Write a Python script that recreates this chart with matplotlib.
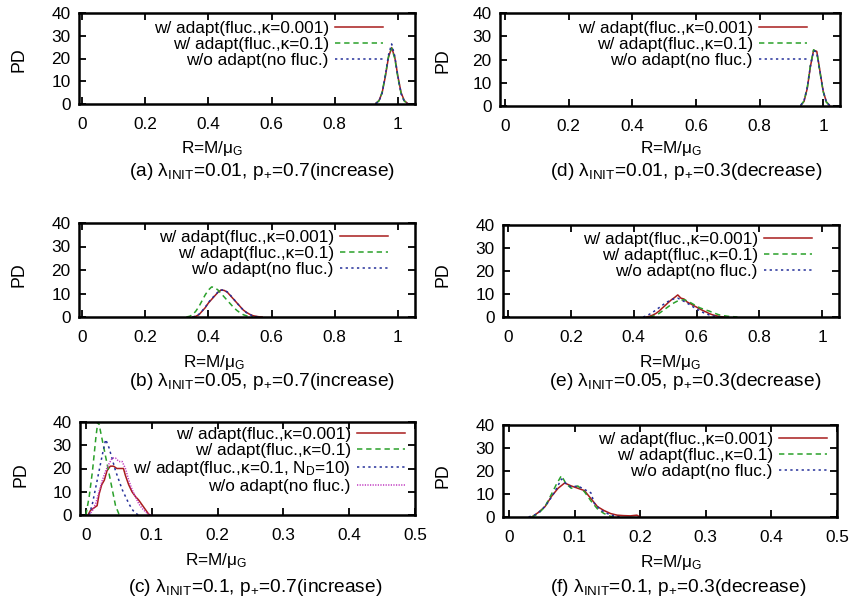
import matplotlib
matplotlib.use('Agg')
import matplotlib.pyplot as plt

plt.rcParams['font.family'] = ['Liberation Sans', 'DejaVu Sans']
plt.rcParams['mathtext.fontset'] = 'custom'
plt.rcParams['mathtext.rm'] = 'Liberation Sans'
plt.rcParams['mathtext.it'] = 'Liberation Sans:italic'
plt.rcParams['mathtext.bf'] = 'Liberation Sans:bold'

# colours / styles of the gnuplot line types
C_RED = '#a81c1c'
C_GRN = '#2aa02a'
C_BLU = '#25309a'
C_MAG = '#c038c0'

LBL_K001 = 'w/ adapt(fluc.,κ=0.001)'
LBL_K01 = 'w/ adapt(fluc.,κ=0.1)'
LBL_ND = r'w/ adapt(fluc.,κ=0.1, N$_{\mathrm{D}}$=10)'
LBL_NOF = 'w/o adapt(no fluc.)'

# ---- (a) lambda=0.01, p+=0.7
a_x = [0.93, 0.94, 0.95, 0.96, 0.97, 0.98, 0.99, 1.00, 1.01, 1.02, 1.03]
a_red = [0.3, 1.5, 5.0, 12.0, 20.5, 24.8, 20.5, 12.0, 5.0, 1.5, 0.3]
a_grn = [0.2, 1.4, 5.2, 12.5, 20.8, 24.6, 20.0, 11.5, 4.6, 1.3, 0.2]
a_blu = [0.2, 1.2, 4.8, 12.5, 21.5, 26.4, 21.0, 12.0, 4.5, 1.2, 0.2]

# ---- (d) lambda=0.01, p+=0.3
d_x = [0.93, 0.94, 0.95, 0.96, 0.97, 0.98, 0.99, 1.00, 1.01, 1.02]
d_red = [0.3, 2.0, 7.5, 17.0, 24.0, 23.5, 15.0, 6.5, 1.8, 0.3]
d_grn = [0.3, 2.2, 7.8, 17.5, 24.2, 23.0, 14.5, 6.2, 1.7, 0.3]
d_blu = [0.4, 2.4, 8.0, 17.2, 23.8, 23.2, 14.8, 6.4, 1.8, 0.3]

# ---- (b) lambda=0.05, p+=0.7
b_x_red = [0.35, 0.36, 0.37, 0.38, 0.39, 0.40, 0.41, 0.42, 0.43, 0.44, 0.45, 0.46,
           0.47, 0.48, 0.49, 0.50, 0.51, 0.52, 0.53, 0.54, 0.55, 0.56, 0.57]
b_red = [0, 0.3, 1.0, 2.5, 4.0, 6.0, 7.5, 9.0, 10.5, 11.5, 11.3, 10.5,
         9.0, 7.5, 6.0, 4.5, 3.0, 2.0, 1.2, 0.6, 0.3, 0.1, 0]
b_x_grn = [0.33, 0.34, 0.35, 0.36, 0.37, 0.38, 0.39, 0.40, 0.41, 0.42, 0.43,
           0.44, 0.45, 0.46, 0.47, 0.48, 0.49, 0.50, 0.51, 0.52, 0.53, 0.54]
b_grn = [0, 0.3, 1.0, 2.5, 4.5, 7.0, 9.5, 11.5, 12.8, 12.5, 11.5,
         10.0, 8.5, 7.0, 5.5, 4.0, 2.8, 1.8, 1.0, 0.5, 0.2, 0]
b_x_blu = [0.35, 0.36, 0.37, 0.38, 0.39, 0.40, 0.41, 0.42, 0.43, 0.44, 0.45, 0.46,
           0.47, 0.48, 0.49, 0.50, 0.51, 0.52, 0.53, 0.54, 0.55, 0.56]
b_blu = [0, 0.4, 1.2, 2.6, 4.2, 6.2, 7.8, 9.2, 10.6, 11.4, 11.6, 10.6,
         9.2, 7.6, 6.0, 4.4, 3.0, 1.9, 1.1, 0.5, 0.2, 0]

# ---- (e) lambda=0.05, p+=0.3
e_x_red = [0.44, 0.45, 0.46, 0.47, 0.48, 0.49, 0.50, 0.51, 0.52, 0.53, 0.54, 0.55, 0.56,
           0.57, 0.58, 0.59, 0.60, 0.61, 0.62, 0.63, 0.64, 0.65, 0.66, 0.67, 0.68, 0.69]
e_red = [0, 0.3, 0.8, 1.5, 2.5, 3.8, 5.0, 6.3, 7.5, 8.5, 9.6, 8.2, 7.8,
         6.5, 5.8, 5.0, 4.3, 3.5, 2.8, 2.2, 1.5, 1.0, 0.6, 0.3, 0.1, 0]
e_x_grn = [0.45, 0.46, 0.47, 0.48, 0.49, 0.50, 0.51, 0.52, 0.53, 0.54, 0.55, 0.56, 0.57,
           0.58, 0.59, 0.60, 0.61, 0.62, 0.63, 0.64, 0.65, 0.66, 0.67, 0.68, 0.69, 0.70,
           0.71, 0.72, 0.73]
e_grn = [0, 0.3, 0.8, 1.5, 2.5, 3.5, 4.5, 5.5, 6.3, 7.0, 7.3, 7.5, 7.0,
         6.3, 5.5, 4.8, 4.0, 3.5, 3.0, 2.6, 2.0, 1.5, 1.0, 0.7, 0.5, 0.3,
         0.2, 0.1, 0]
e_x_blu = [0.43, 0.44, 0.45, 0.46, 0.47, 0.48, 0.49, 0.50, 0.51, 0.52, 0.53, 0.54, 0.55,
           0.56, 0.57, 0.58, 0.59, 0.60, 0.61, 0.62, 0.63, 0.64, 0.65, 0.66, 0.67, 0.68]
e_blu = [0, 0.5, 1.2, 2.0, 3.0, 4.0, 5.0, 6.0, 6.8, 7.5, 8.0, 8.2, 7.5,
         6.8, 6.0, 5.2, 4.3, 3.5, 2.7, 2.0, 1.4, 0.9, 0.5, 0.3, 0.1, 0]

# ---- (c) lambda=0.1, p+=0.7
c_x_red = [0.003, 0.007, 0.012, 0.017, 0.020, 0.024, 0.028, 0.032, 0.037, 0.042, 0.047,
           0.052, 0.057, 0.060, 0.065, 0.070, 0.075, 0.080, 0.085, 0.090, 0.095, 0.097]
c_red = [0, 2.0, 3.0, 4.0, 9.0, 13.0, 15.0, 19.0, 21.0, 21.0, 20.0,
         20.0, 20.0, 17.0, 13.0, 10.0, 8.0, 6.5, 4.5, 2.5, 0.5, 0]
c_x_grn = [0.0, 0.005, 0.010, 0.015, 0.018, 0.020, 0.025, 0.030, 0.035, 0.040, 0.045,
           0.050, 0.055]
c_grn = [0, 8.0, 19.0, 33.0, 40.0, 39.0, 32.0, 25.0, 18.0, 11.0, 4.0, 0.5, 0]
c_x_blu = [0.005, 0.010, 0.015, 0.020, 0.025, 0.030, 0.035, 0.040, 0.045, 0.050, 0.055,
           0.060, 0.065, 0.070, 0.075, 0.080]
c_blu = [0, 5.0, 12.0, 19.0, 26.0, 32.5, 29.0, 24.0, 19.0, 15.0, 11.0,
         8.0, 5.0, 2.5, 0.8, 0]
c_x_mag = [0.005, 0.010, 0.015, 0.020, 0.025, 0.030, 0.035, 0.040, 0.045, 0.050, 0.055,
           0.060, 0.065, 0.070, 0.075, 0.080, 0.085, 0.090, 0.095, 0.100]
c_mag = [0, 2.0, 5.0, 10.0, 15.0, 19.0, 22.0, 24.5, 24.5, 23.0, 23.0,
         20.0, 15.0, 11.0, 8.0, 5.0, 3.0, 1.5, 0.3, 0]

# ---- (f) lambda=0.1, p+=0.3
f_x_red = [0.035, 0.045, 0.055, 0.065, 0.075, 0.085, 0.095, 0.105, 0.115, 0.125, 0.135,
           0.145, 0.155, 0.165, 0.175, 0.185, 0.195, 0.200]
f_red = [0, 2.0, 4.5, 9.0, 12.5, 14.8, 13.5, 12.5, 11.5, 8.0, 4.5,
         2.8, 1.5, 0.8, 0.6, 0.5, 0.8, 0]
f_x_grn = [0.035, 0.045, 0.055, 0.065, 0.072, 0.080, 0.087, 0.095, 0.105, 0.115, 0.125,
           0.135, 0.145, 0.155, 0.160]
f_grn = [0, 1.5, 4.5, 10.0, 14.0, 18.0, 14.5, 12.5, 13.5, 11.0, 7.0,
         3.5, 1.5, 0.3, 0]
f_x_blu = [0.030, 0.040, 0.050, 0.060, 0.070, 0.080, 0.085, 0.095, 0.105, 0.115, 0.125,
           0.130, 0.140, 0.150, 0.160, 0.170]
f_blu = [0, 1.0, 3.0, 6.5, 11.0, 16.5, 15.0, 13.0, 13.5, 12.0, 10.5,
         6.0, 3.0, 1.5, 0.5, 0]

FS = 12.4      # ticks, legend, x label
FS_CAP = 13.8  # sub-figure captions
W, H = 854, 601
fig = plt.figure(figsize=(W / 100, H / 100), dpi=100)


def make_ax(L, R, T, B, xlim, xticks):
    ax = fig.add_axes([L / W, 1 - B / H, (R - L) / W, (B - T) / H])
    ax.set_xlim(xlim)
    ax.set_ylim(0, 40)
    ax.set_xticks(xticks)
    ax.set_xticklabels(['%g' % t for t in xticks])
    ax.set_yticks([0, 10, 20, 30, 40])
    ax.tick_params(direction='in', top=True, right=True, length=5, width=1.3,
                   labelsize=FS)
    ax.tick_params(axis='x', pad=9)
    ax.tick_params(axis='y', pad=6)
    for s in ax.spines.values():
        s.set_linewidth(1.8)
    return ax


def draw(ax, series):
    for xs, ys, col, ls, lab in series:
        ax.plot(xs, ys, color=col, linestyle=ls, lw=1.1, label=lab)


def leg(ax, xr, ytop):
    # xr: right end of the line sample (px), ytop: top of legend (px)
    bb = ax.get_position()
    x = (xr / W - bb.x0) / bb.width
    y = ((1 - ytop / H) - bb.y0) / bb.height
    ax.legend(loc='upper right', bbox_to_anchor=(x, y), frameon=False,
              markerfirst=False, fontsize=FS, handlelength=2.8,
              handletextpad=0.35, labelspacing=0.06, borderpad=0,
              borderaxespad=0)


def labels(xc_lab, y_lab, xc_cap, y_cap, cap, x_pd, y_pd):
    fig.text(xc_lab / W, 1 - y_lab / H, r'R=M/μ$_{\mathrm{G}}$', fontsize=FS,
             ha='center', va='center')
    fig.text(xc_cap / W, 1 - y_cap / H, cap, fontsize=FS_CAP,
             ha='center', va='center')
    fig.text(x_pd / W, 1 - y_pd / H, 'PD', fontsize=FS + 0.4, rotation=90,
             ha='center', va='center')


X1 = [0, 0.2, 0.4, 0.6, 0.8, 1]
X5 = [0, 0.1, 0.2, 0.3, 0.4, 0.5]
S_RED = '-'
S_GRN = (0, (3.5, 2.5))
S_BLU = (0, (1.5, 2.2))
S_MAG = (0, (0.8, 0.9))

# (a)
ax = make_ax(79, 415, 13, 104, (-0.01, 1.054), X1)
draw(ax, [(a_x, a_red, C_RED, S_RED, LBL_K001),
          (a_x, a_grn, C_GRN, S_GRN, LBL_K01),
          (a_x, a_blu, C_BLU, S_BLU, LBL_NOF)])
leg(ax, 383, 21)
labels(212, 148, 262, 171,
       r'(a) λ$_{\mathrm{INIT}}$=0.01, p$_{+}$=0.7(increase)', 19, 60)

# (b)
ax = make_ax(79, 415, 223, 317, (-0.01, 1.054), X1)
draw(ax, [(b_x_red, b_red, C_RED, S_RED, LBL_K001),
          (b_x_grn, b_grn, C_GRN, S_GRN, LBL_K01),
          (b_x_blu, b_blu, C_BLU, S_BLU, LBL_NOF)])
leg(ax, 388, 230)
labels(214, 362, 262, 382,
       r'(b) λ$_{\mathrm{INIT}}$=0.05, p$_{+}$=0.7(increase)', 19, 275)

# (c)
ax = make_ax(80, 415, 422, 515, (-0.009, 0.5), X5)
draw(ax, [(c_x_red, c_red, C_RED, S_RED, LBL_K001),
          (c_x_grn, c_grn, C_GRN, S_GRN, LBL_K01),
          (c_x_blu, c_blu, C_BLU, S_BLU, LBL_ND),
          (c_x_mag, c_mag, C_MAG, S_MAG, LBL_NOF)])
leg(ax, 405, 427)
labels(216, 561, 255, 587,
       r'(c) λ$_{\mathrm{INIT}}$=0.1, p$_{+}$=0.7(increase)', 21, 475)

# (d)
ax = make_ax(500, 840, 13, 106, (-0.016, 1.053), X1)
draw(ax, [(d_x, d_red, C_RED, S_RED, LBL_K001),
          (d_x, d_grn, C_GRN, S_GRN, LBL_K01),
          (d_x, d_blu, C_BLU, S_BLU, LBL_NOF)])
leg(ax, 807, 21)
labels(671, 148, 686, 171,
       r'(d) λ$_{\mathrm{INIT}}$=0.01, p$_{+}$=0.3(decrease)', 443, 61)

# (e)
ax = make_ax(503, 839, 225, 317, (-0.016, 1.053), X1)
draw(ax, [(e_x_red, e_red, C_RED, S_RED, LBL_K001),
          (e_x_grn, e_grn, C_GRN, S_GRN, LBL_K01),
          (e_x_blu, e_blu, C_BLU, S_BLU, LBL_NOF)])
leg(ax, 812, 232)
labels(670, 362, 685, 382,
       r'(e) λ$_{\mathrm{INIT}}$=0.05, p$_{+}$=0.3(decrease)', 443, 275)

# (f)
ax = make_ax(503, 837, 425, 517, (-0.009, 0.5), X5)
draw(ax, [(f_x_red, f_red, C_RED, S_RED, LBL_K001),
          (f_x_grn, f_grn, C_GRN, S_GRN, LBL_K01),
          (f_x_blu, f_blu, C_BLU, S_BLU, LBL_NOF)])
leg(ax, 827, 432)
labels(671, 562, 678, 587,
       r'(f) λ$_{\mathrm{INIT}}$=0.1, p$_{+}$=0.3(decrease)', 443, 476)

fig.savefig('out.png', dpi=100)
